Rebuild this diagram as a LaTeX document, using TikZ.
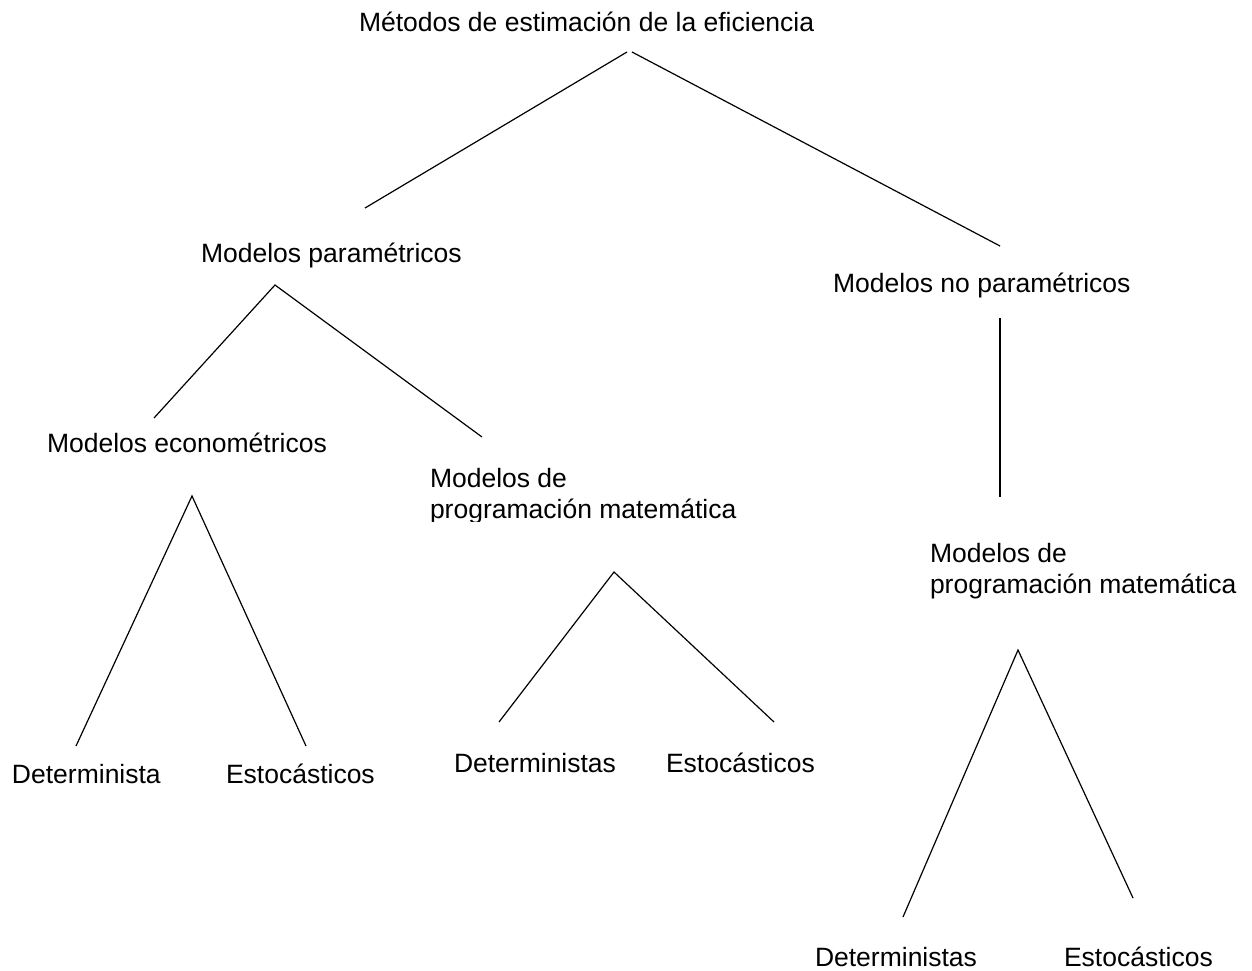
\documentclass[tikz,border=0pt]{standalone}
\usepackage{fontspec}
\setmainfont{Liberation Sans}
\newcommand{\lbl}{\fontsize{26.5}{31}\selectfont}
\begin{document}
\begin{tikzpicture}[x=1pt,y=-1pt,
  lab/.style={anchor=base west,inner sep=0pt,outer sep=0pt,font=\lbl},
  branch/.style={draw=black,line width=1.2pt}]
\useasboundingbox (0,0) rectangle (1252,971);
% labels
\node[lab] (root) at (359,32) {Métodos de estimación de la eficiencia};
\node[lab] (par) at (201,262) {Modelos paramétricos};
\node[lab] (nopar) at (833,292) {Modelos no paramétricos};
\node[lab] (eco) at (47,452) {Modelos econométricos};
\begin{scope}
  \clip (420,440) rectangle (820,521);
  \node[lab] (pm1) at (430,487) {\begin{tabular}[t]{@{}l@{}}Modelos de\\programación matemática\end{tabular}};
\end{scope}
\node[lab] (pm2) at (930,562) {\begin{tabular}[t]{@{}l@{}}Modelos de\\programación matemática\end{tabular}};
\node[lab] (d1) at (12,783) {Determinista};
\node[lab] (e1) at (226,783) {Estocásticos};
\node[lab] (d2) at (454,772) {Deterministas};
\node[lab] (e2) at (666,772) {Estocásticos};
\node[lab] (d3) at (815,966) {Deterministas};
\node[lab] (e3) at (1064,966) {Estocásticos};
% branch end points
\coordinate (r1) at (627,52);  \coordinate (r1e) at (365,208);
\coordinate (r2) at (632,52);  \coordinate (r2e) at (1000,246);
\coordinate (p0) at (275,285); \coordinate (p1) at (154,418); \coordinate (p2) at (482,437);
\coordinate (n0) at (1000,318); \coordinate (n1) at (1000,497);
\coordinate (c0) at (192,496); \coordinate (c1) at (76,746); \coordinate (c2) at (306,746);
\coordinate (m0) at (614,572); \coordinate (m1) at (499,722); \coordinate (m2) at (774,722);
\coordinate (q0) at (1018,650); \coordinate (q1) at (903,917); \coordinate (q2) at (1133,898);
% branches
\draw[branch] (r1) -- (r1e);
\draw[branch] (r2) -- (r2e);
\draw[branch] (p1) -- (p0) -- (p2);
\draw[branch] (n0) -- (n1);
\draw[branch] (c1) -- (c0) -- (c2);
\draw[branch] (m1) -- (m0) -- (m2);
\draw[branch] (q1) -- (q0) -- (q2);
\end{tikzpicture}
\end{document}
